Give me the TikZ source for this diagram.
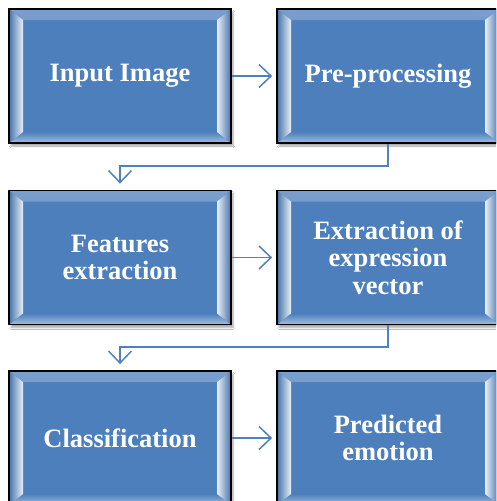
\documentclass[tikz,border=0pt]{standalone}
\usepackage{fontspec}
\setmainfont{Liberation Serif}
\usetikzlibrary{arrows.meta,shadows.blur,calc}
\definecolor{boxblue}{RGB}{76,127,188}
\definecolor{linkblue}{RGB}{79,129,189}
\tikzset{
  box/.style={draw=black, line width=1.8pt, fill=boxblue, minimum width=222pt,
    minimum height=134pt, inner sep=0pt, text=white, align=center,
    font=\bfseries\fontsize{26.5}{27.5}\selectfont,
    blur shadow={shadow xshift=2pt, shadow yshift=-3pt, shadow blur steps=6, shadow opacity=35},
    path picture={
      \fill[top color=boxblue!75!white, bottom color=boxblue]
        (path picture bounding box.north west) -- (path picture bounding box.north east)
        -- ([xshift=-14pt,yshift=-11pt]path picture bounding box.north east)
        -- ([xshift=14pt,yshift=-11pt]path picture bounding box.north west) -- cycle;
      \fill[top color=boxblue, bottom color=boxblue!50!white]
        (path picture bounding box.south west) -- (path picture bounding box.south east)
        -- ([xshift=-14pt,yshift=11pt]path picture bounding box.south east)
        -- ([xshift=14pt,yshift=11pt]path picture bounding box.south west) -- cycle;
      \fill[left color=boxblue!90!black, right color=boxblue!12!white]
        (path picture bounding box.north west)
        -- ([xshift=14pt,yshift=-11pt]path picture bounding box.north west)
        -- ([xshift=14pt,yshift=11pt]path picture bounding box.south west)
        -- (path picture bounding box.south west) -- cycle;
      \fill[left color=boxblue!12!white, right color=boxblue!90!black]
        (path picture bounding box.north east)
        -- ([xshift=-14pt,yshift=-11pt]path picture bounding box.north east)
        -- ([xshift=-14pt,yshift=11pt]path picture bounding box.south east)
        -- (path picture bounding box.south east) -- cycle;
    }},
  conn/.style={draw=linkblue, line width=1.5pt,
    -{Straight Barb[length=12pt,width=23pt,line width=1.5pt]}}
}
\begin{document}
\begin{tikzpicture}[x=1pt,y=-1pt]
\useasboundingbox (0,0) rectangle (496,501);
\clip (0,0) rectangle (496,501);
\fill[white] (0,0) rectangle (496,501);
\node[box] (b1) at (120,76) {Input Image};
\node[box] (b2) at (388,76) {Pre-processing};
\node[box] (b3) at (120,257.5) {Features\\extraction};
\node[box] (b4) at (388,257.5) {Extraction of\\expression\\vector};
\node[box] (b5) at (120,438) {Classification};
\node[box] (b6) at (388,438) {Predicted\\emotion};
\coordinate (k1) at (388,166);
\coordinate (k2) at (388,347);
\draw[conn, shorten >=4pt] (b1.east) -- (b2.west);
\draw[conn, shorten >=4pt] (b3.east) -- (b4.west);
\draw[conn, shorten >=4pt] (b5.east) -- (b6.west);
\draw[conn, shorten >=6pt] (b2.south) -- (k1) -| (b3.north);
\draw[conn, shorten >=6pt] (b4.south) -- (k2) -| (b5.north);
\end{tikzpicture}
\end{document}
